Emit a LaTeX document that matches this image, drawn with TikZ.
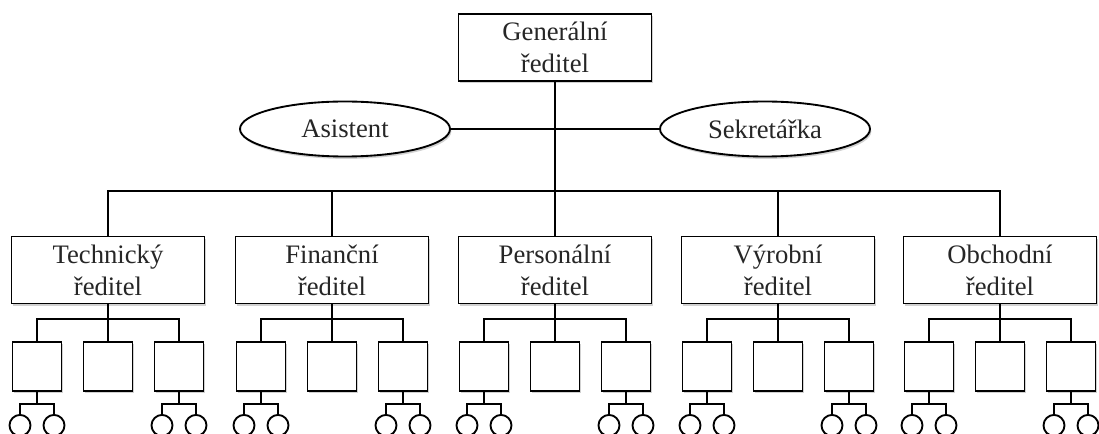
\documentclass[tikz,border=0pt]{standalone}
\usepackage{fontspec}
\setmainfont{Liberation Serif}
\usetikzlibrary{shadows,shapes.geometric}

\tikzset{
	base/.style={draw, line width=1.4pt, fill=white,
		drop shadow={shadow xshift=1pt, shadow yshift=-1.8pt, fill=black, opacity=0.18}},
	role/.style={base, rectangle, minimum width=144.75pt, minimum height=50.25pt,
		inner sep=0pt, align=center, text=black!85},
	aide/.style={base, ellipse, minimum width=157.5pt, minimum height=41.25pt,
		inner sep=0pt, text=black!85},
	unit/.style={base, rectangle, minimum size=36.75pt, inner sep=0pt},
	leaf/.style={draw, line width=1.4pt, fill=white, circle, minimum size=15.75pt, inner sep=0pt},
	link/.style={line width=1.4pt},
}

\begin{document}
\begin{tikzpicture}[x=0.75pt, y=-0.75pt, font=\fontsize{20}{24}\selectfont]
	\useasboundingbox (0,0) rectangle (1099,434);

	%% General director and his staff
	\node [role] (gen) at (555,47.5) {Generální\\ředitel};
	\node [aide] (asist) at (345,129) {Asistent};
	\node [aide] (sekr) at (765,129) {Sekretářka};
	\coordinate (bus) at (555,191);
	\draw [link] (gen) -- (bus);
	\draw [link] (asist) -- (sekr);

	%% Directors, their units and the units below them
	\foreach \name/\x [count=\i] in {Technický/108, Finanční/332, Personální/555, Výrobní/778, Obchodní/1000} {
		\node [role] (dir\i) at (\x,270) {\name\\ředitel};
		\draw [link] (dir\i.north) |- (bus);
		\coordinate (fork\i) at (\x,319);
		\draw [link] (dir\i) -- (fork\i);
		\foreach \dx/\s in {-71/a, 0/b, 71/c} {
			\node [unit] (sub\i\s) at (\x+\dx,366.5) {};
			\draw [link] (sub\i\s) |- (fork\i);
		}
		\foreach \s in {a,c} {
			\path (sub\i\s.south) ++(0,12) coordinate (twig\i\s);
			\draw [link] (sub\i\s) -- (twig\i\s);
			\foreach \dx/\k in {-17/1, 17/2} {
				\path (twig\i\s) ++(\dx,21.5) node [leaf] (leaf\i\s\k) {};
				\draw [link] (leaf\i\s\k) |- (twig\i\s);
			}
		}
	}
	%% colour of the text is a soft black, i.e. black!85
\end{tikzpicture}
\end{document}
